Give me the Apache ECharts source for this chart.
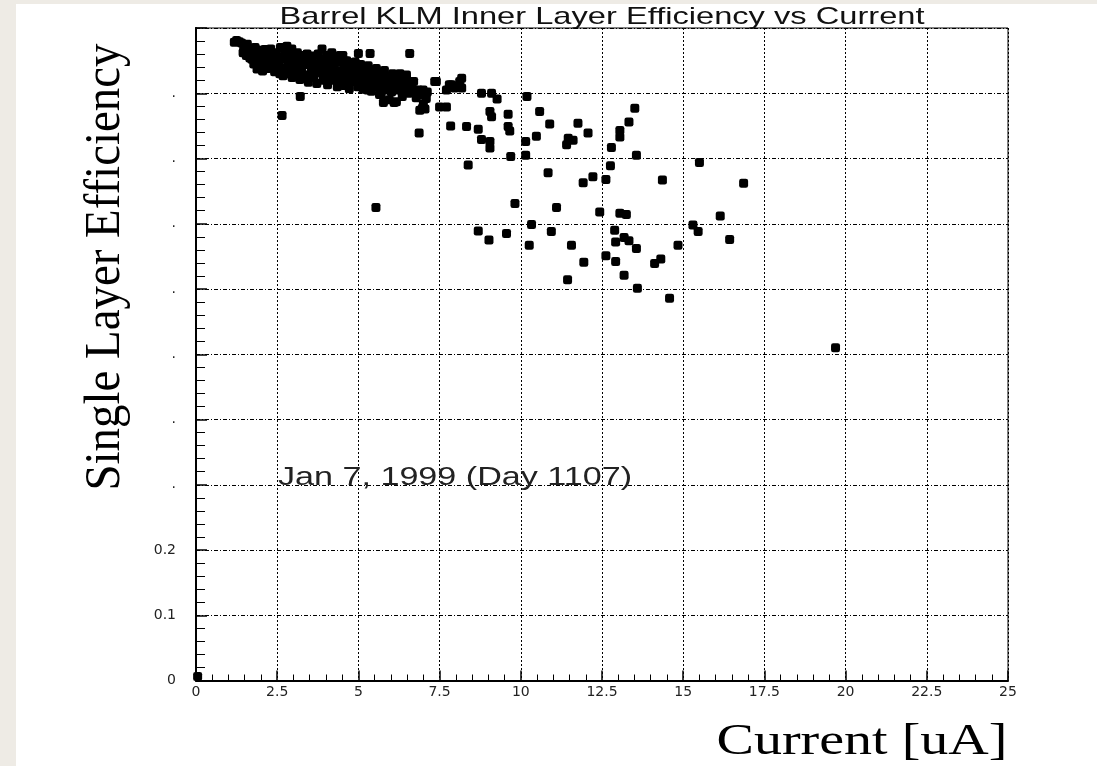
<!DOCTYPE html>
<html>
<head>
<meta charset="utf-8">
<script src="https://cdn.jsdelivr.net/npm/echarts@6/dist/echarts.min.js"></script>
<style>
  html, body { margin: 0; padding: 0; background: #fff; }
  #chart { width: 1097px; height: 766px; }
</style>
</head>
<body>
<div id="chart"></div>
<script>
// Texts
const chartTitle = 'Barrel KLM Inner Layer Efficiency vs Current';
const xAxisTitle = 'Current [uA]';
const yAxisTitle = 'Single Layer Efficiency';
const runNote = 'Jan 7, 1999 (Day 1107)';

// Tick labels (only the lowest efficiency labels are legible, the rest print as dots)
const xTickLabels = ['0', '2.5', '5', '7.5', '10', '12.5', '15', '17.5', '20', '22.5', '25'];
const yTickLabels = ['0', '0.1', '0.2', '.', '.', '.', '.', '.', '.', '.', ''];

// Measured chamber current [uA] and single layer efficiency, point by point
const current = [
  1.18, 1.25, 1.33, 1.40, 1.47, 1.52, 1.58, 1.62, 1.66, 1.66,
  1.72, 1.75, 1.82, 1.85, 1.90, 1.95, 2.00, 2.03, 2.08, 2.12, 2.18, 2.20, 2.25,
  2.30, 2.33, 2.38, 2.42, 2.47, 2.52, 2.55, 2.60, 2.63, 2.68, 2.72, 2.75, 2.80, 2.83, 2.87, 2.92, 2.96, 3.00,
  3.05, 3.08, 3.12, 3.16, 3.20, 3.25, 3.28, 3.33, 3.38, 3.42, 3.46, 3.50, 3.55, 3.60, 3.63, 3.68, 3.72, 3.76, 3.80, 3.85, 3.88, 3.92, 3.96,
  4.02, 4.05, 4.10, 4.14, 4.18, 4.22, 4.26, 4.30, 4.35, 4.38, 4.42, 4.43, 4.47, 4.52, 4.55, 4.55, 4.60, 4.64, 4.65, 4.68, 4.72, 4.76, 4.80, 4.85, 4.90, 4.95, 4.98,
  5.03, 5.07, 5.10, 5.15, 5.20, 5.25, 5.30, 5.35, 5.40, 5.45, 5.50, 5.55, 5.60, 5.65, 5.70, 5.75, 5.80, 5.85, 5.90, 5.95,
  6.00, 6.05, 6.10, 6.15, 6.22, 6.28, 6.35, 6.42, 6.48, 6.55, 6.62, 6.70, 6.78, 6.85, 6.95, 7.00, 7.05, 7.12,
  1.45, 1.55, 1.70, 1.78, 1.88, 1.98, 2.05, 2.15, 2.28, 2.36, 2.45, 2.58, 2.65, 2.78, 2.90, 2.95,
  3.10, 3.18, 3.30, 3.40, 3.52, 3.58, 3.70, 3.82, 3.90, 4.00, 4.08, 4.20, 4.28, 4.40, 4.50, 4.62, 4.70, 4.82, 4.92,
  5.05, 5.18, 5.28, 5.42, 5.52, 5.62, 5.78, 5.88, 6.02, 6.12, 6.25, 6.38, 6.52, 6.68,
  5.00, 5.36, 6.58, 3.21, 2.65, 6.87, 7.35, 7.40, 7.80, 8.12, 7.96, 6.99, 7.09, 6.97, 5.77, 6.17, 5.70, 6.89, 7.50, 6.28, 6.48, 6.64,
  8.18, 7.87, 7.71, 8.18, 8.79, 9.10, 9.27, 10.19, 7.71, 9.05, 9.10, 9.61, 10.58, 10.89, 11.76, 7.84, 8.33, 8.69, 9.61, 9.66,
  12.07, 13.51, 13.33, 13.05, 13.05, 10.48, 8.79, 9.05, 9.05, 10.15, 11.46, 11.61, 11.41, 12.79, 9.69, 10.15, 13.56, 8.38, 12.76, 10.84,
  12.22, 11.92, 12.62, 14.36, 16.86, 15.50, 9.82, 11.10, 12.43, 13.05, 13.25, 16.14, 10.33, 8.69, 9.56, 10.94, 9.02, 10.26, 11.56, 12.89,
  15.30, 15.46, 12.92, 13.18, 13.33, 13.56, 14.84, 16.43, 12.62, 12.92, 11.94, 14.12, 14.31, 11.44, 13.18, 13.59, 14.58, 5.54, 19.69, 0.05
];
const efficiency = [
  0.978, 0.981, 0.979, 0.977, 0.972, 0.965, 0.975, 0.958, 0.969, 0.954,
  0.952, 0.963, 0.970, 0.957, 0.948, 0.962, 0.966, 0.944, 0.955, 0.967, 0.949, 0.938, 0.960,
  0.968, 0.952, 0.943, 0.933, 0.962, 0.955, 0.947, 0.970, 0.938, 0.927, 0.958, 0.965, 0.972, 0.945, 0.935, 0.952, 0.924, 0.960,
  0.942, 0.930, 0.962, 0.951, 0.921, 0.938, 0.958, 0.946, 0.928, 0.960, 0.917, 0.950, 0.936, 0.957, 0.925, 0.944, 0.915, 0.960, 0.932, 0.952, 0.968, 0.920, 0.940,
  0.958, 0.913, 0.948, 0.930, 0.962, 0.920, 0.942, 0.955, 0.910, 0.933, 0.948, 0.958, 0.925, 0.958, 0.912, 0.950, 0.940, 0.950, 0.943, 0.922, 0.907, 0.945, 0.932, 0.918, 0.948, 0.938, 0.910,
  0.930, 0.944, 0.920, 0.906, 0.936, 0.915, 0.942, 0.927, 0.903, 0.932, 0.912, 0.938, 0.922, 0.898, 0.930, 0.915, 0.935, 0.905, 0.925, 0.890,
  0.915, 0.930, 0.886, 0.920, 0.905, 0.925, 0.895, 0.915, 0.922, 0.900, 0.910, 0.918, 0.893, 0.905, 0.898, 0.884, 0.876, 0.902,
  0.962, 0.958, 0.960, 0.945, 0.937, 0.952, 0.934, 0.958, 0.943, 0.960, 0.948, 0.930, 0.952, 0.930, 0.942, 0.968,
  0.948, 0.935, 0.925, 0.944, 0.925, 0.946, 0.932, 0.942, 0.930, 0.925, 0.938, 0.950, 0.928, 0.918, 0.935, 0.930, 0.915, 0.942, 0.925,
  0.912, 0.928, 0.905, 0.918, 0.928, 0.910, 0.922, 0.915, 0.902, 0.910, 0.915, 0.905, 0.912, 0.902,
  0.961, 0.961, 0.961, 0.895, 0.866, 0.839, 0.918, 0.918, 0.913, 0.918, 0.908, 0.905, 0.892, 0.877, 0.886, 0.887, 0.898, 0.874, 0.879, 0.930, 0.928, 0.902,
  0.923, 0.913, 0.905, 0.908, 0.900, 0.900, 0.891, 0.895, 0.879, 0.872, 0.864, 0.868, 0.872, 0.853, 0.854, 0.850, 0.849, 0.845, 0.849, 0.842,
  0.839, 0.877, 0.856, 0.843, 0.833, 0.834, 0.829, 0.826, 0.816, 0.826, 0.831, 0.828, 0.821, 0.817, 0.803, 0.805, 0.805, 0.790, 0.789, 0.778,
  0.772, 0.763, 0.768, 0.767, 0.762, 0.794, 0.731, 0.725, 0.718, 0.716, 0.714, 0.712, 0.699, 0.689, 0.685, 0.688, 0.675, 0.667, 0.667, 0.690,
  0.698, 0.688, 0.672, 0.679, 0.674, 0.662, 0.667, 0.676, 0.651, 0.642, 0.641, 0.639, 0.646, 0.614, 0.621, 0.601, 0.586, 0.725, 0.510, 0.006
];

const points = current.map((c, i) => [c, efficiency[i]]);

// Stretch a text horizontally so that it spans a given width
const measureCtx = document.createElement('canvas').getContext('2d');
function stretchTo(text, font, targetWidth) {
  measureCtx.font = font;
  return targetWidth / measureCtx.measureText(text).width;
}

const titleFont = '24px "Liberation Sans"';
const noteFont = '26px "Liberation Sans"';
const serifFont = '45px "Liberation Serif"';
const yNameFont = '50px "Liberation Serif"';

const chart = echarts.init(document.getElementById('chart'), null, { renderer: 'canvas' });
chart.setOption({
  animation: false,
  backgroundColor: '#fff',
  grid: {
    left: 196, top: 28, right: 89, bottom: 85.5,
    show: true, borderColor: '#000', borderWidth: 1, backgroundColor: 'transparent'
  },
  xAxis: {
    type: 'value', min: 0, max: 25, interval: 2.5,
    axisLine: { show: true, onZero: false, lineStyle: { color: '#000', width: 2 } },
    axisTick: { show: true, inside: true, length: 10, lineStyle: { color: '#000', width: 1.5 } },
    minorTick: { show: true, splitNumber: 5, length: 6, lineStyle: { color: '#000', width: 1 } },
    splitLine: { show: true, lineStyle: { color: '#000', width: 1, type: [2, 2] } },
    axisLabel: {
      margin: 5, color: '#222', fontFamily: 'DejaVu Sans', fontSize: 14,
      formatter: v => xTickLabels[Math.round(v / 2.5)]
    }
  },
  yAxis: [{
    type: 'value', min: 0, max: 1, interval: 0.1,
    axisLine: { show: true, onZero: false, lineStyle: { color: '#000', width: 2 } },
    axisTick: { show: true, inside: true, length: 11, lineStyle: { color: '#000', width: 1.5 } },
    minorTick: { show: true, splitNumber: 5, length: 9, lineStyle: { color: '#000', width: 1 } },
    splitLine: { show: true, lineStyle: { color: '#000', width: 1, type: [4, 2, 1, 2] } },
    axisLabel: {
      margin: 20, color: '#222', fontFamily: 'DejaVu Sans', fontSize: 14,
      formatter: v => yTickLabels[Math.round(v * 10)]
    }
  }, {
    type: 'value', min: 0, max: 1, interval: 0.1, position: 'right',
    axisLine: { show: true, lineStyle: { color: '#000', width: 2 } },
    axisTick: { show: false }, axisLabel: { show: false }, splitLine: { show: false }
  }],
  series: [{
    type: 'scatter',
    data: points,
    symbol: 'roundRect',
    symbolSize: 9,
    itemStyle: { color: '#000', opacity: 1 },
    clip: true
  }],
  graphic: [
    { type: 'rect', shape: { x: 0, y: 0, width: 16, height: 766 }, style: { fill: '#eeebe5' }, silent: true },
    { type: 'rect', shape: { x: 0, y: 0, width: 1097, height: 4 }, style: { fill: '#eeebe5' }, silent: true },
    {
      type: 'text', x: 602, y: 17,
      scaleX: stretchTo(chartTitle, titleFont, 645),
      style: { text: chartTitle, font: titleFont, fill: '#111', align: 'center', verticalAlign: 'middle' }
    },
    {
      type: 'text', x: 278, y: 478, z: 10,
      scaleX: stretchTo(runNote, noteFont, 354),
      style: { text: runNote, font: noteFont, fill: '#222', align: 'left', verticalAlign: 'middle' }
    },
    {
      type: 'text', x: 862, y: 742,
      scaleX: stretchTo(xAxisTitle, serifFont, 291),
      style: { text: xAxisTitle, font: serifFont, fill: '#000', align: 'center', verticalAlign: 'middle' }
    },
    {
      type: 'text', x: 106, y: 267, rotation: Math.PI / 2,
      scaleX: stretchTo(yAxisTitle, yNameFont, 447),
      style: { text: yAxisTitle, font: yNameFont, fill: '#000', align: 'center', verticalAlign: 'middle' }
    }
  ]
});
</script>
</body>
</html>
